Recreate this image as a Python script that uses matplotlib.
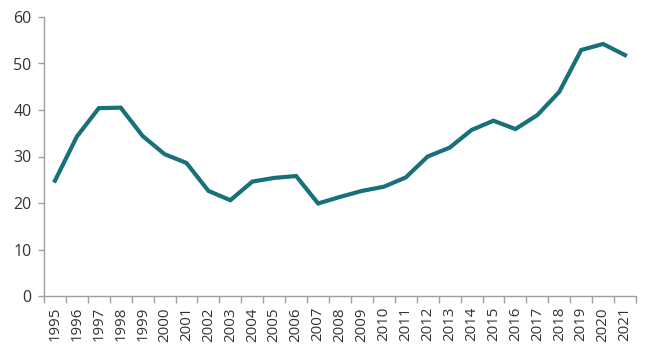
import matplotlib
matplotlib.use("Agg")
import matplotlib.pyplot as plt
import numpy as np

# data
years = [str(y) for y in range(1995, 2022)]
values = [24.8, 34.3, 40.4, 40.5, 34.4, 30.5, 28.6, 22.6, 20.6, 24.6, 25.4, 25.8,
          19.9, 21.3, 22.6, 23.5, 25.5, 30.0, 31.9, 35.7, 37.7, 35.9, 38.9, 43.9,
          52.9, 54.2, 51.8]
yticks = [0, 10, 20, 30, 40, 50, 60]

plt.rcParams['font.family'] = ['Open Sans', 'DejaVu Sans']

fig = plt.figure(figsize=(6.55, 3.54), dpi=100)
ax = fig.add_axes([44 / 655, (354 - 296) / 354, (636 - 44) / 655, (296 - 17) / 354])

x = np.arange(len(years))
ax.plot(x, values, color='#17707a', linewidth=3.0, solid_joinstyle='miter')

ax.set_xlim(-0.5, len(years) - 0.5)
ax.set_ylim(0, 60)
ax.set_yticks(yticks)
ax.set_yticklabels([str(v) for v in yticks], fontsize=11.5, color='#333333')

# category ticks between the labels, labels centred on the categories
ax.set_xticks(np.arange(len(years) + 1) - 0.5)
ax.set_xticklabels([])
ax.set_xticks(x, minor=True)
ax.set_xticklabels(years, minor=True, rotation=90, fontsize=10.8, color='#333333')
ax.tick_params(axis='x', which='major', length=5, color='#a0a0a0', width=1)
ax.tick_params(axis='x', which='minor', length=0, pad=8)
ax.tick_params(axis='y', length=4, color='#a0a0a0', width=1, pad=5)

for side in ['top', 'right']:
    ax.spines[side].set_visible(False)
for side in ['left', 'bottom']:
    ax.spines[side].set_color('#a0a0a0')
    ax.spines[side].set_linewidth(1)

plt.savefig('out.png', dpi=100)
plt.close()
